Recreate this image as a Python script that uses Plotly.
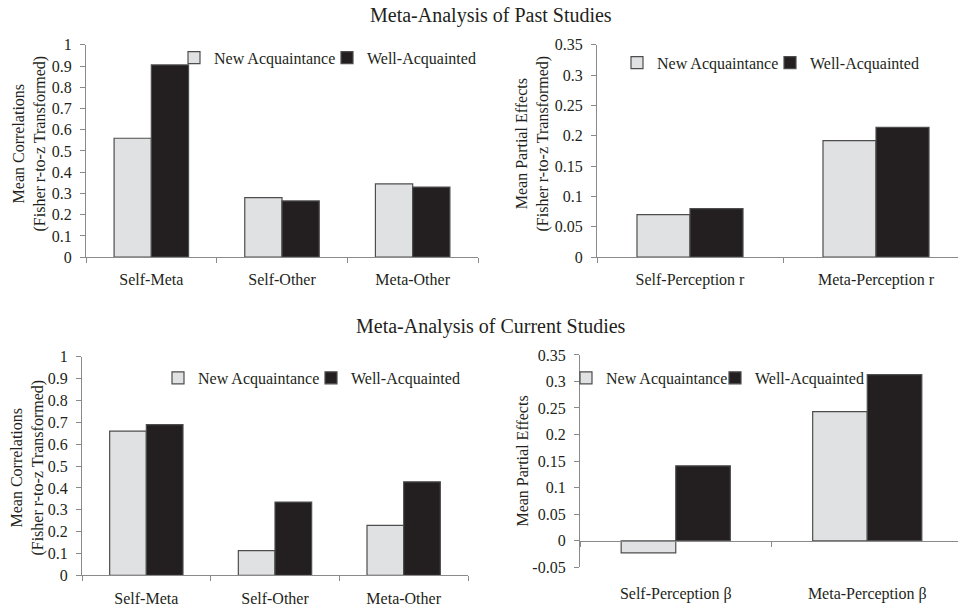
import plotly.graph_objects as go

# ---- data ----
past_corr_cats = ["Self-Meta", "Self-Other", "Meta-Other"]
past_corr_new = [0.56, 0.28, 0.345]
past_corr_well = [0.905, 0.265, 0.33]

past_part_cats = ["Self-Perception r", "Meta-Perception r"]
past_part_new = [0.07, 0.192]
past_part_well = [0.08, 0.214]

cur_corr_cats = ["Self-Meta", "Self-Other", "Meta-Other"]
cur_corr_new = [0.66, 0.113, 0.228]
cur_corr_well = [0.69, 0.335, 0.428]

cur_part_cats = ["Self-Perception β", "Meta-Perception β"]
cur_part_new = [-0.023, 0.243]
cur_part_well = [0.141, 0.313]

series_names = ["New Acquaintance", "Well-Acquainted"]

corr_ticks = [0, 0.1, 0.2, 0.3, 0.4, 0.5, 0.6, 0.7, 0.8, 0.9, 1]
corr_ticktext = ["0", "0.1", "0.2", "0.3", "0.4", "0.5", "0.6", "0.7", "0.8", "0.9", "1"]
past_part_ticks = [0, 0.05, 0.1, 0.15, 0.2, 0.25, 0.3, 0.35]
past_part_ticktext = ["0", "0.05", "0.1", "0.15", "0.2", "0.25", "0.3", "0.35"]
cur_part_ticks = [-0.05, 0, 0.05, 0.1, 0.15, 0.2, 0.25, 0.3, 0.35]
cur_part_ticktext = ["-0.05", "0", "0.05", "0.1", "0.15", "0.2", "0.25", "0.3", "0.35"]

# ---- style ----
LIGHT = "#e0e1e3"
DARK = "#231f20"
EDGE = "#4d4d4d"
AXIS = "#8a8a8a"
TXT = "#231f20"
FONT = "Liberation Serif"
W, H = 958, 611


def px_x(v):
    return v / W


def px_y(v):
    # map a target picture row to a paper fraction
    page = (v - 7.1) / 0.975
    return 1 - page / H


fig = go.Figure()

panels = [
    (past_corr_cats, past_corr_new, past_corr_well, "x", "y", "legend", 108),
    (past_part_cats, past_part_new, past_part_well, "x2", "y2", "legend2", 108),
    (cur_corr_cats, cur_corr_new, cur_corr_well, "x3", "y3", "legend3", 108),
    (cur_part_cats, cur_part_new, cur_part_well, "x4", "y4", "legend4", 104),
]
for cats, new, well, xa, ya, lg, lw in panels:
    fig.add_trace(go.Bar(x=cats, y=new, name=series_names[0], xaxis=xa, yaxis=ya,
                         legend=lg, legendwidth=lw,
                         marker=dict(color=LIGHT, line=dict(color=EDGE, width=1.2))))
    fig.add_trace(go.Bar(x=cats, y=well, name=series_names[1], xaxis=xa, yaxis=ya,
                         legend=lg,
                         marker=dict(color=DARK, line=dict(color=EDGE, width=1.2))))

# domains
d1x = [px_x(86), px_x(478)]
d2x = [px_x(597), 1.0]
d3x = [px_x(82), px_x(468)]
d4x = [px_x(580), 1.0]
dtop = [px_y(257), px_y(44)]
d3y = [px_y(576), px_y(357)]
d4y = [px_y(568), px_y(355)]

# right-hand panels: the category band runs past the visible edge
x2_range = [-0.5, -0.5 + (W - 597) / 186.0]
x4_range = [-0.5, -0.5 + (W - 580) / 191.5]

cur_range = [-0.05, 0.35]
zero_pos = d4y[0] + (0 - cur_range[0]) / (cur_range[1] - cur_range[0]) * (d4y[1] - d4y[0])

tickfont = dict(family=FONT, size=16, color=TXT)

xcommon = dict(type="category", showline=True, linecolor=AXIS, linewidth=1.2,
               ticks="outside", tickson="boundaries", ticklen=5, tickcolor=AXIS,
               tickfont=tickfont, showgrid=False, zeroline=False, ticklabelstandoff=8)
ycommon = dict(showline=True, linecolor=AXIS, linewidth=1.2, ticks="outside",
               ticklen=5, tickcolor=AXIS, tickfont=tickfont, showgrid=False,
               zeroline=False, ticklabelstandoff=5)

fig.update_layout(
    width=W, height=H,
    margin=dict(l=0, r=0, t=0, b=0),
    paper_bgcolor="white", plot_bgcolor="white",
    barmode="group", bargap=0.43, bargroupgap=0,
    font=dict(family=FONT, size=16, color=TXT),
    xaxis=dict(domain=d1x, anchor="y", **xcommon),
    yaxis=dict(domain=dtop, anchor="x", range=[0, 1], tickvals=corr_ticks,
               ticktext=corr_ticktext, **ycommon),
    xaxis2=dict(domain=d2x, anchor="y2", range=x2_range, **xcommon),
    yaxis2=dict(domain=dtop, anchor="x2", range=[0, 0.35], tickvals=past_part_ticks,
                ticktext=past_part_ticktext, **ycommon),
    xaxis3=dict(domain=d3x, anchor="y3", **xcommon),
    yaxis3=dict(domain=d3y, anchor="x3", range=[0, 1], tickvals=corr_ticks,
                ticktext=corr_ticktext, **ycommon),
    xaxis4=dict(domain=d4x, anchor="free", position=zero_pos, range=x4_range,
                **{**xcommon, "ticklabelstandoff": 38}),
    yaxis4=dict(domain=d4y, anchor="x4", range=cur_range, tickvals=cur_part_ticks,
                ticktext=cur_part_ticktext, **ycommon),
)

legfont = dict(family=FONT, size=16, color=TXT)
legcommon = dict(orientation="h", xanchor="left", yanchor="top", font=legfont,
                 bgcolor="rgba(0,0,0,0)", traceorder="normal", itemwidth=30)
fig.update_layout(
    legend=dict(x=px_x(174), y=px_y(40), **legcommon),
    legend2=dict(x=px_x(617), y=px_y(45), **legcommon),
    legend3=dict(x=px_x(158), y=px_y(361), **legcommon),
    legend4=dict(x=px_x(566), y=px_y(361), **legcommon),
)

annots = [
    dict(text="Meta-Analysis of Past Studies", x=px_x(491), y=1 - 7.5 / H, size=20, angle=0),
    dict(text="Meta-Analysis of Current Studies", x=px_x(491), y=px_y(327), size=20, angle=0),
    dict(text="Mean Correlations<br>(Fisher r-to-z Transformed)", x=px_x(30), y=px_y(143), size=16, angle=-90),
    dict(text="Mean Partial Effects<br>(Fisher r-to-z Transformed)", x=px_x(533), y=px_y(143), size=16, angle=-90),
    dict(text="Mean Correlations<br>(Fisher r-to-z Transformed)", x=px_x(28), y=px_y(468), size=16, angle=-90),
    dict(text="Mean Partial Effects", x=px_x(523), y=px_y(462), size=16, angle=-90),
]
for a in annots:
    fig.add_annotation(text=a["text"], x=a["x"], y=a["y"], xref="paper", yref="paper",
                       xanchor="center", yanchor="middle", showarrow=False,
                       textangle=a["angle"], font=dict(family=FONT, size=a["size"], color=TXT))

fig.write_html("out.html", config={"displayModeBar": False},
               post_script="document.body.style.margin='0';document.body.style.overflow='hidden';")
